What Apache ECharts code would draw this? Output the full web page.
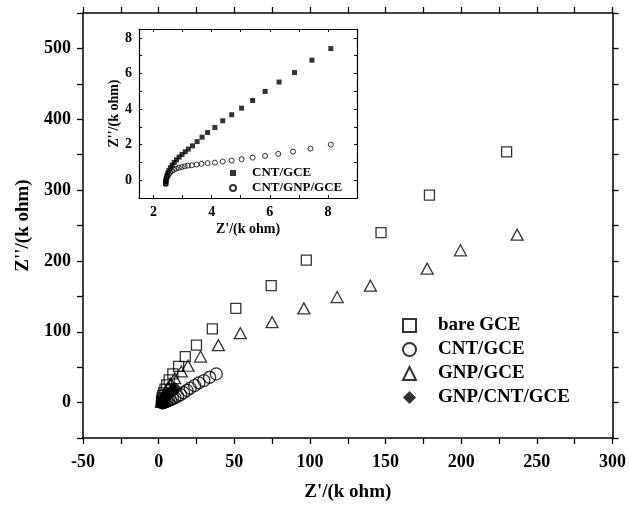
<!DOCTYPE html>
<html>
<head>
<meta charset="utf-8">
<script src="https://cdn.jsdelivr.net/npm/echarts@6/dist/echarts.min.js"></script>
<style>
  html, body { margin: 0; padding: 0; background: #fff; }
  #chart { width: 629px; height: 507px; }
</style>
</head>
<body>
<div id="chart"></div>
<script>
// Nyquist plots, Z' vs Z'' in k ohm
const seriesNames = ['bare GCE', 'CNT/GCE', 'GNP/GCE', 'GNP/CNT/GCE'];

const bareGCE = [
  [230, 354], [179, 293], [147, 240], [97.6, 201], [74.4, 165], [51, 133],
  [35.5, 104], [25, 81], [17.6, 65], [13.2, 51], [9.4, 40.5], [7, 32],
  [5.3, 25], [4.2, 19], [3.4, 14], [2.8, 10], [2.4, 6.5], [2.1, 3.5], [1.9, 1]
];
const cntGCE = [
  [38.1, 40.5], [33.7, 35.8], [29.9, 31.1], [26.6, 27.9], [23.8, 24.2],
  [20.9, 20.4], [18.7, 17.2], [16.5, 14], [14.5, 11.2], [12.6, 9], [10.8, 7],
  [9.2, 5.4], [7.8, 4], [6.5, 2.9], [5.4, 2], [4.4, 1.2], [3.5, 0.6],
  [2.8, 0.1], [2.3, -0.3]
];
const gnpGCE = [
  [237, 237], [199.5, 215], [177.5, 189], [140, 165], [118, 149], [96, 133],
  [75, 113.5], [54, 98], [39.5, 81], [27.7, 65], [19.4, 52], [15, 44],
  [10.6, 34.5], [8, 27], [6.2, 21], [4.8, 16], [3.8, 12], [3, 8.5],
  [2.5, 5.5], [2.1, 3], [1.9, 1]
];
const gnpCntGCE = [
  [2.4, -1], [2.6, 0.8], [2.9, 2.5], [3.3, 4.2], [3.8, 5.9], [4.4, 7.6],
  [5.1, 9.3], [5.9, 11], [6.8, 12.7], [7.8, 14.4], [8.9, 16.1], [10.1, 17.8],
  [11.3, 19.5]
];

// inset (low-impedance region)
const insetNames = ['CNT/GCE ', 'CNT/GNP/GCE'];
const insetCntGCE = [
  [2.42, -0.2], [2.42, -0.05], [2.44, 0.1], [2.46, 0.25], [2.49, 0.4],
  [2.53, 0.55], [2.58, 0.7], [2.64, 0.85], [2.71, 1.0], [2.79, 1.15],
  [2.88, 1.3], [2.98, 1.45], [3.09, 1.6], [3.2, 1.75], [3.34, 1.93],
  [3.5, 2.17], [3.67, 2.42], [3.86, 2.68], [4.11, 2.96], [4.38, 3.34],
  [4.69, 3.68], [5.03, 4.05], [5.41, 4.48], [5.84, 4.99], [6.32, 5.52],
  [6.85, 6.05], [7.45, 6.75], [8.1, 7.4]
];
const insetCntGnpGCE = [
  [2.42, -0.2], [2.43, -0.05], [2.45, 0.1], [2.48, 0.22], [2.52, 0.33],
  [2.57, 0.43], [2.63, 0.52], [2.7, 0.59], [2.78, 0.65], [2.87, 0.7],
  [2.97, 0.74], [3.07, 0.78], [3.18, 0.82], [3.32, 0.84], [3.48, 0.88],
  [3.65, 0.92], [3.86, 0.96], [4.11, 0.99], [4.38, 1.05], [4.69, 1.1],
  [5.03, 1.18], [5.41, 1.27], [5.84, 1.37], [6.29, 1.48], [6.8, 1.61],
  [7.4, 1.78], [8.1, 2.0]
];

// tick values
const mainXLabels = [-50, 0, 50, 100, 150, 200, 250, 300];
const mainYLabels = [0, 100, 200, 300, 400, 500];
const insetXLabels = [2, 4, 6, 8];
const insetXTicks = [2, 3, 4, 5, 6, 7, 8, 9];
const insetYLabels = [0, 2, 4, 6, 8];
const insetYTicks = [-1, 0, 1, 2, 3, 4, 5, 6, 7, 8];

const FONT = 'Liberation Serif';
const ink = '#000';

function axisBase(extra) {
  return Object.assign({
    type: 'value',
    splitLine: { show: false },
    axisLine: { show: true, onZero: false, lineStyle: { color: ink, width: 1.5 } },
    axisLabel: { show: false },
    axisTick: { show: true, inside: false, length: 6, lineStyle: { color: ink, width: 1.3 } }
  }, extra);
}

const mainX = { min: -50, max: 300, interval: 25 };
const mainY = { min: -50, max: 550, interval: 50 };
const insX = { min: 1.5, max: 9 };
const insY = { min: -1, max: 8.5 };

const tickLabel = { fontFamily: FONT, fontWeight: 'bold', color: ink };
const insetLine = { show: true, onZero: false, lineStyle: { color: ink, width: 1.2 } };
function insetTicks(values) {
  return { show: true, inside: true, length: 3, customValues: values, lineStyle: { color: ink, width: 1 } };
}

const xAxes = [
  axisBase(Object.assign({}, mainX, {
    gridIndex: 0, position: 'bottom',
    name: "Z'/(k ohm)", nameLocation: 'middle', nameGap: 45,
    nameTextStyle: { fontFamily: FONT, fontWeight: 'bold', fontSize: 19, color: ink },
    axisLabel: Object.assign({ show: true, fontSize: 18, margin: 15, customValues: mainXLabels }, tickLabel)
  })),
  axisBase(Object.assign({}, mainX, { gridIndex: 0, position: 'top' })),
  axisBase(Object.assign({}, insX, {
    gridIndex: 1, position: 'bottom',
    axisLine: insetLine, axisTick: insetTicks(insetXTicks),
    name: "Z'/(k ohm)", nameLocation: 'middle', nameGap: 24,
    nameTextStyle: { fontFamily: FONT, fontWeight: 'bold', fontSize: 14, color: ink },
    axisLabel: Object.assign({ show: true, fontSize: 14, margin: 7, customValues: insetXLabels }, tickLabel)
  })),
  axisBase(Object.assign({}, insX, {
    gridIndex: 1, position: 'top', axisLine: insetLine, axisTick: insetTicks(insetXTicks)
  }))
];

const yAxes = [
  axisBase(Object.assign({}, mainY, {
    gridIndex: 0, position: 'left',
    name: "Z''/(k ohm)", nameLocation: 'middle', nameGap: 50, nameRotate: 90,
    nameTextStyle: { fontFamily: FONT, fontWeight: 'bold', fontSize: 19, color: ink },
    axisLabel: Object.assign({ show: true, fontSize: 18, margin: 12, customValues: mainYLabels }, tickLabel)
  })),
  axisBase(Object.assign({}, mainY, { gridIndex: 0, position: 'right' })),
  axisBase(Object.assign({}, insY, {
    gridIndex: 1, position: 'left',
    axisLine: insetLine, axisTick: insetTicks(insetYTicks),
    name: "Z''/(k ohm)", nameLocation: 'middle', nameGap: 16, nameRotate: 90,
    nameTextStyle: { fontFamily: FONT, fontWeight: 'bold', fontSize: 14, color: ink },
    axisLabel: Object.assign({ show: true, fontSize: 14, margin: 7, customValues: insetYLabels }, tickLabel)
  })),
  axisBase(Object.assign({}, insY, {
    gridIndex: 1, position: 'right', axisLine: insetLine, axisTick: insetTicks(insetYTicks)
  }))
];

const hollow = { color: 'rgba(255,255,255,0)', borderColor: ink, borderWidth: 1.3 };

const option = {
  backgroundColor: '#fff',
  animation: false,
  grid: [
    { left: 83, top: 13, width: 530, height: 430, containLabel: false },
    { left: 139, top: 29, width: 218, height: 169, containLabel: false,
      show: true, backgroundColor: '#fff', borderWidth: 0 }
  ],
  xAxis: xAxes,
  yAxis: yAxes,
  legend: [
    {
      data: seriesNames, orient: 'vertical', left: 402, top: 316, padding: 0,
      itemWidth: 13, itemHeight: 13, itemGap: 5, selectedMode: false,
      textStyle: { fontFamily: FONT, fontWeight: 'bold', fontSize: 19, lineHeight: 19, color: ink,
                   padding: [0, 0, 0, 17] }
    },
    {
      data: insetNames, orient: 'vertical', left: 229, top: 166, padding: 0,
      itemWidth: 6, itemHeight: 6, itemGap: 1, selectedMode: false,
      textStyle: { fontFamily: FONT, fontWeight: 'bold', fontSize: 13, lineHeight: 14, color: ink,
                   padding: [0, 0, 0, 11] }
    }
  ],
  series: [
    { name: seriesNames[0], type: 'scatter', xAxisIndex: 0, yAxisIndex: 0,
      symbol: 'rect', symbolSize: 10, itemStyle: hollow, data: bareGCE },
    { name: seriesNames[1], type: 'scatter', xAxisIndex: 0, yAxisIndex: 0,
      symbol: 'circle', symbolSize: 12, itemStyle: hollow, data: cntGCE },
    { name: seriesNames[2], type: 'scatter', xAxisIndex: 0, yAxisIndex: 0,
      symbol: 'triangle', symbolSize: [12, 11], itemStyle: hollow, data: gnpGCE },
    { name: seriesNames[3], type: 'scatter', xAxisIndex: 0, yAxisIndex: 0,
      symbol: 'diamond', symbolSize: 13, itemStyle: { color: ink }, data: gnpCntGCE },
    { name: insetNames[0], type: 'scatter', xAxisIndex: 2, yAxisIndex: 2,
      symbol: 'rect', symbolSize: 5, itemStyle: { color: ink }, data: insetCntGCE },
    { name: insetNames[1], type: 'scatter', xAxisIndex: 2, yAxisIndex: 2,
      symbol: 'circle', symbolSize: 5, itemStyle: { color: 'rgba(255,255,255,0)', borderColor: ink, borderWidth: 1 },
      data: insetCntGnpGCE }
  ]
};

const chart = echarts.init(document.getElementById('chart'), null, { renderer: 'canvas' });
chart.setOption(option);
</script>
</body>
</html>
